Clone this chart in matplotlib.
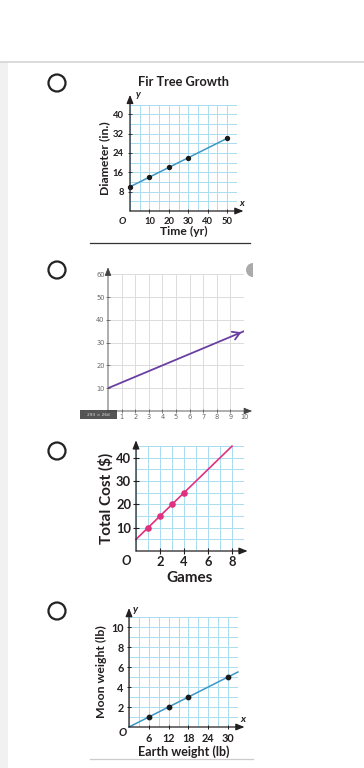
import matplotlib.pyplot as plt
from matplotlib.patches import Circle, Rectangle, Wedge

W, H = 364, 768
BOLD = ['Lato', 'DejaVu Sans']
TXT = '#231f20'
GRID_BLUE = '#a9dcf0'

# panel 1: Fir Tree Growth
fir_years = [0, 10, 20, 30, 50]
fir_diam = [10, 14, 18, 22, 30]
fir_xticks = [10, 20, 30, 40, 50]
fir_yticks = [8, 16, 24, 32, 40]

# panel 2: purple line
line2_x = [0, 10]
line2_y = [10, 35]
p2_xticks = [1, 2, 3, 4, 5, 6, 7, 8, 9, 10]
p2_yticks = [10, 20, 30, 40, 50, 60]

# panel 3: Total Cost
games = [1, 2, 3, 4]
cost = [10, 15, 20, 25]
cost_line_x = [0, 8]
cost_line_y = [5, 45]
p3_xticks = [2, 4, 6, 8]
p3_yticks = [10, 20, 30, 40]

# panel 4: Moon weight
earth = [6, 12, 18, 30]
moon = [1, 2, 3, 5]
moon_line_x = [0, 33]
moon_line_y = [0, 5.5]
p4_xticks = [6, 12, 18, 24, 30]
p4_yticks = [2, 4, 6, 8, 10]

fig = plt.figure(figsize=(W / 100, H / 100), dpi=100)

# page overlay in pixel coordinates
bg = fig.add_axes([0, 0, 1, 1])
bg.set_xlim(0, W)
bg.set_ylim(H, 0)
bg.axis('off')
bg.add_patch(Rectangle((0, 62), 8, H - 62, color='#f1f1f1', lw=0))
bg.plot([0, W], [62, 62], color='#d4d4d4', lw=1.2)
for cy in [83, 270, 451, 611]:
    bg.add_patch(Circle((57, cy), 8.5, fill=False, ec='#222222', lw=1.6))
bg.plot([90, 250], [243, 243], color='#333333', lw=0.9)
bg.plot([90, 253], [759, 759], color='#cccccc', lw=0.9)


def place(ox, oy, sx, sy, xlim, ylim):
    l = (ox + xlim[0] * sx) / W
    b = (H - oy + ylim[0] * sy) / H
    w = (xlim[1] - xlim[0]) * sx / W
    h = (ylim[1] - ylim[0]) * sy / H
    ax = fig.add_axes([l, b, w, h])
    ax.set_xlim(*xlim)
    ax.set_ylim(*ylim)
    for s in ax.spines.values():
        s.set_visible(False)
    ax.set_facecolor('none')
    return ax


def arrows(ax, xend, yend, x0=0, y0=0, color='#231f20', lw=0.9):
    ax.annotate('', xy=(xend, 0), xytext=(x0, 0),
                arrowprops=dict(arrowstyle='-|>,head_length=0.5,head_width=0.2',
                                color=color, lw=lw, shrinkA=0, shrinkB=0),
                annotation_clip=False)
    ax.annotate('', xy=(0, yend), xytext=(0, y0),
                arrowprops=dict(arrowstyle='-|>,head_length=0.5,head_width=0.2',
                                color=color, lw=lw, shrinkA=0, shrinkB=0),
                annotation_clip=False)


def grid(ax, xs, ys, color):
    ax.set_xticks(xs, minor=True)
    ax.set_yticks(ys, minor=True)
    ax.grid(which='minor', color=color, lw=0.7)
    ax.grid(which='major', color=color, lw=0.7)
    ax.tick_params(which='minor', length=0)


def bold(size):
    return dict(fontfamily=BOLD, fontweight='bold', fontsize=size, color=TXT)


# ---- panel 1
ax1 = place(130, 211, 1.94, 2.42, (0, 55), (0, 44))
grid(ax1, range(0, 56, 5), range(0, 45, 4), GRID_BLUE)
ax1.set_xticks(fir_xticks)
ax1.set_yticks(fir_yticks)
ax1.set_xticklabels([str(v) for v in fir_xticks], **bold(6.8))
ax1.set_yticklabels([str(v) for v in fir_yticks], **bold(6.8))
ax1.tick_params(direction='inout', length=3, width=0.6, color=TXT, pad=3)
ax1.plot([fir_years[0], fir_years[-1]], [fir_diam[0], fir_diam[-1]], color='#3b97c6', lw=1.1, clip_on=False)
ax1.scatter(fir_years, fir_diam, s=8, color='#1a1a1a', zorder=3, clip_on=False)
arrows(ax1, 58.5, 48)
bg.text(184, 82, 'Fir Tree Growth', ha='center', va='center', **bold(9.2))
ax1.set_xlabel('Time (yr)', labelpad=0, **bold(8.7))
ax1.set_ylabel('Diameter (in.)', labelpad=2, **bold(8.8))
ax1.text(-4, -4.5, 'O', style='italic', ha='center', va='center', **bold(7))
ax1.text(4, 48, 'y', style='italic', ha='center', va='center', **bold(7))
ax1.text(57.5, 3, 'x', style='italic', ha='center', va='center', **bold(7))

# ---- panel 2
ax2 = place(108, 411, 13.6, 2.28, (0, 10), (0, 60))
grid(ax2, p2_xticks, p2_yticks, '#dcdcdc')
ax2.set_xticks(p2_xticks)
ax2.set_yticks(p2_yticks)
ax2.tick_params(direction='inout', length=3, width=0.5, color='#555555', labelsize=4.8, labelcolor='#666666', pad=1)
ax2.plot(line2_x, line2_y, color='#6b3fa0', lw=1.3)
ax2.annotate('', xy=(line2_x[1], line2_y[1]), xytext=(9.3, 33.25),
             arrowprops=dict(arrowstyle='->,head_length=0.5,head_width=0.3', color='#6b3fa0', lw=1.3),
             annotation_clip=False)
arrows(ax2, 10.6, 63, x0=0, y0=-1, color='#444444', lw=0.6)
bg.add_patch(Rectangle((80, 410), 37, 9, color='#555555', lw=0))
bg.text(98, 414.5, '293 × 268', fontsize=3.2, color='#dddddd', ha='center', va='center')
bg.add_patch(Wedge((253, 270), 7, 90, 270, color='#aaaaaa', lw=0))

# ---- panel 3
ax3 = place(136, 551, 12, 2.33, (0, 9), (0, 45))
grid(ax3, range(0, 10), range(0, 46, 5), GRID_BLUE)
ax3.set_xticks(p3_xticks)
ax3.set_yticks(p3_yticks)
ax3.set_xticklabels([str(v) for v in p3_xticks], **bold(9.3))
ax3.set_yticklabels([str(v) for v in p3_yticks], **bold(9.3))
ax3.tick_params(direction='inout', length=4, width=0.8, color=TXT, pad=1.5)
ax3.plot(cost_line_x, cost_line_y, color='#e0307e', lw=1.2, clip_on=False)
ax3.scatter(games, cost, s=14, color='#e0307e', zorder=3)
arrows(ax3, 9.3, 47.5)
ax3.set_xlabel('Games', labelpad=2, **bold(11))
ax3.set_ylabel('Total Cost ($)', labelpad=2, **bold(11))
ax3.text(-0.8, -4.2, 'O', style='italic', ha='center', va='center', **bold(9))

# ---- panel 4
ax4 = place(129, 727, 3.3, 10, (0, 33), (0, 11))
grid(ax4, range(0, 34, 3), range(0, 12), GRID_BLUE)
ax4.set_xticks(p4_xticks)
ax4.set_yticks(p4_yticks)
ax4.set_xticklabels([str(v) for v in p4_xticks], **bold(7.8))
ax4.set_yticklabels([str(v) for v in p4_yticks], **bold(7.8))
ax4.tick_params(direction='inout', length=3, width=0.7, color=TXT, pad=2.5)
ax4.plot(moon_line_x, moon_line_y, color='#3b97c6', lw=1.1, clip_on=False)
ax4.scatter(earth, moon, s=10, color='#1a1a1a', zorder=3)
arrows(ax4, 35, 11.9)
ax4.set_xlabel('Earth weight (lb)', labelpad=1, **bold(9))
ax4.set_ylabel('Moon weight (lb)', labelpad=3, **bold(8.8))
ax4.text(-2, -0.5, 'O', style='italic', ha='center', va='center', **bold(7.8))
ax4.text(2, 11.8, 'y', style='italic', ha='center', va='center', **bold(7.5))
ax4.text(34.5, 0.8, 'x', style='italic', ha='center', va='center', **bold(7.5))

fig.savefig('out.png', dpi=100)
